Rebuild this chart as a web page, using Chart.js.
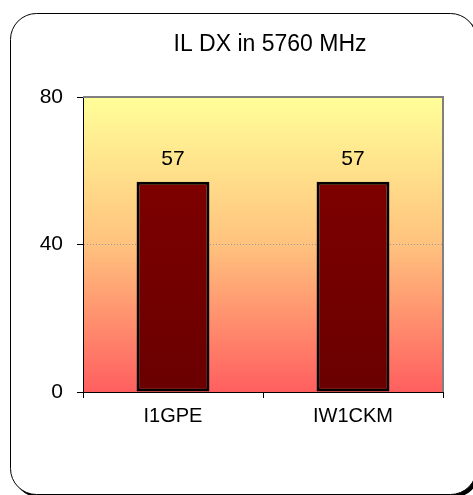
<!DOCTYPE html>
<html>
<head>
<meta charset="utf-8">
<script src="https://cdn.jsdelivr.net/npm/chart.js@4.4.0/dist/chart.umd.min.js"></script>
<style>
    html, body { margin: 0; padding: 0; background: #fff; overflow: hidden; }
    #wrap { width: 473px; height: 495px; }
</style>
</head>
<body>
<div id="wrap"><canvas id="dxChart"></canvas></div>
<script>
// Chart data
const categories = ['I1GPE', 'IW1CKM'];
const distances = [57, 57];
const yTicks = [0, 40, 80];
const chartTitle = 'IL DX in 5760 MHz';

const FONT = '"Liberation Sans", Arial, sans-serif';

// Rounded frame with a drop shadow, plot gradient, title and value labels
const framePlugin = {
    id: 'frame',
    beforeDraw(chart) {
        const ctx = chart.ctx;
        const area = chart.chartArea;
        ctx.save();
        const box = (x, y, w, h, r) => {
            ctx.beginPath();
            ctx.moveTo(x + r, y);
            ctx.arcTo(x + w, y, x + w, y + h, r);
            ctx.arcTo(x + w, y + h, x, y + h, r);
            ctx.arcTo(x, y + h, x, y, r);
            ctx.arcTo(x, y, x + w, y, r);
            ctx.closePath();
        };
        box(13.5, 16.5, 466, 481, 26);
        ctx.fillStyle = '#000';
        ctx.fill();
        box(10.5, 13.5, 466, 481, 26);
        ctx.fillStyle = '#fff';
        ctx.fill();
        ctx.lineWidth = 1;
        ctx.strokeStyle = '#000';
        ctx.stroke();

        const grad = ctx.createLinearGradient(0, area.top, 0, area.bottom);
        grad.addColorStop(0, '#ffff99');
        grad.addColorStop(0.5, '#ffc27e');
        grad.addColorStop(1, '#ff5f5f');
        ctx.fillStyle = grad;
        ctx.fillRect(area.left, area.top, area.right - area.left, area.bottom - area.top);

        ctx.fillStyle = '#000';
        ctx.font = '23px ' + FONT;
        ctx.textAlign = 'center';
        ctx.textBaseline = 'middle';
        ctx.fillText(chartTitle, 270, 45);
        ctx.restore();
    },
    afterDraw(chart) {
        const ctx = chart.ctx;
        const area = chart.chartArea;
        ctx.save();
        ctx.strokeStyle = '#808080';
        ctx.lineWidth = 2;
        ctx.beginPath();
        ctx.moveTo(area.left, area.top);
        ctx.lineTo(area.right, area.top);
        ctx.lineTo(area.right, area.bottom);
        ctx.stroke();

        // value labels above the bars
        ctx.fillStyle = '#000';
        ctx.font = '21px ' + FONT;
        ctx.textAlign = 'center';
        ctx.textBaseline = 'middle';
        chart.getDatasetMeta(0).data.forEach((bar, i) => {
            ctx.fillText(String(distances[i]), bar.x, bar.y - 23);
        });
        ctx.restore();
    }
};

const ctx = document.getElementById('dxChart').getContext('2d');
new Chart(ctx, {
    type: 'bar',
    data: {
        labels: categories,
        datasets: [{
            data: distances,
            backgroundColor: function(context) {
                const area = context.chart.chartArea;
                if (!area) return '#780000';
                const g = context.chart.ctx.createLinearGradient(0, area.top, 0, area.bottom);
                g.addColorStop(0, '#840000');
                g.addColorStop(1, '#6a0000');
                return g;
            },
            borderColor: '#000',
            borderWidth: 3,
            borderSkipped: false,
            barPercentage: 0.405,
            categoryPercentage: 1
        }]
    },
    options: {
        responsive: true,
        maintainAspectRatio: false,
        animation: false,
        layout: { padding: { top: 97, right: 30, left: 0, bottom: 0 } },
        plugins: {
            legend: { display: false },
            tooltip: { enabled: false },
            title: { display: false }
        },
        scales: {
            x: {
                grid: {
                    drawOnChartArea: false,
                    drawTicks: true,
                    tickLength: 6,
                    tickColor: '#000'
                },
                border: { color: '#000', width: 1 },
                ticks: {
                    color: '#000',
                    padding: 6,
                    font: { family: FONT, size: 20 }
                },
                afterFit(scale) { scale.height = 103; }
            },
            y: {
                min: 0,
                max: 80,
                afterBuildTicks(scale) {
                    scale.ticks = yTicks.map(v => ({ value: v }));
                },
                grid: {
                    color: (c) => c.tick && c.tick.value === 40 ? '#9a9a9a' : 'rgba(0,0,0,0)',
                    tickColor: '#000',
                    tickLength: 6,
                    tickBorderDash: []
                },
                border: { color: '#000', width: 1, dash: [1, 2] },
                ticks: {
                    color: '#000',
                    padding: 14,
                    font: { family: FONT, size: 21 }
                },
                afterFit(scale) { scale.width = 83; }
            }
        }
    },
    plugins: [framePlugin]
});
</script>
</body>
</html>
